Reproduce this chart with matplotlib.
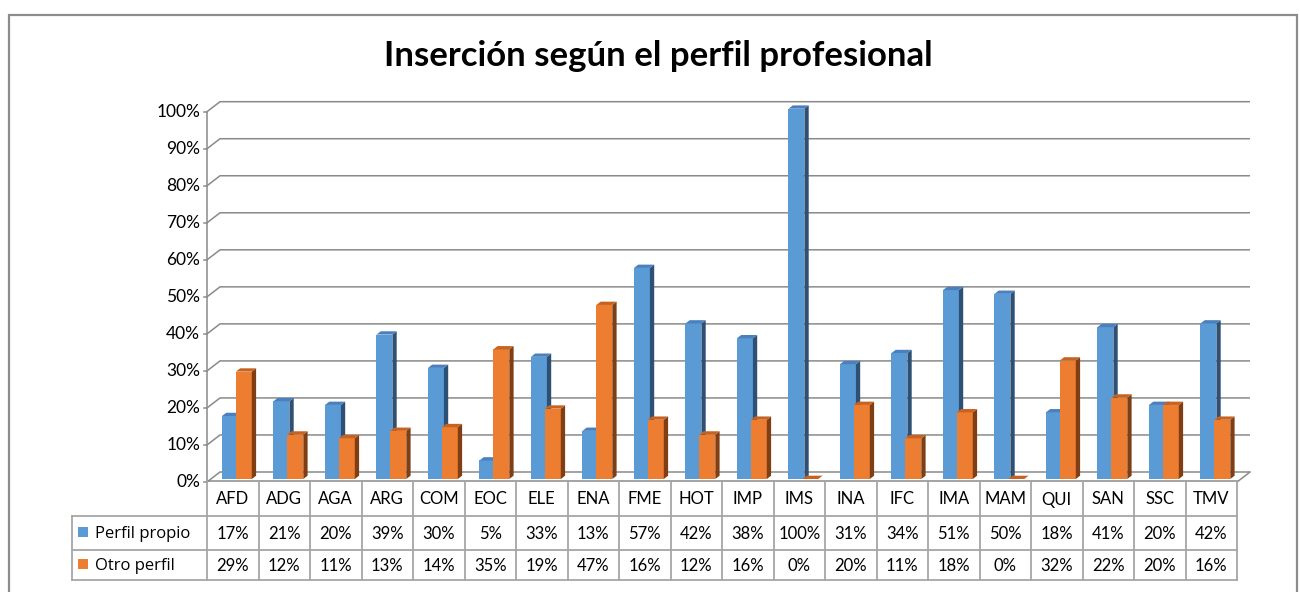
import matplotlib
matplotlib.use("Agg")
import matplotlib.pyplot as plt
import matplotlib.transforms as mtransforms
from matplotlib.patches import Polygon, Rectangle

# ---------------- data ----------------
categories = ["AFD", "ADG", "AGA", "ARG", "COM", "EOC", "ELE", "ENA", "FME", "HOT",
              "IMP", "IMS", "INA", "IFC", "IMA", "MAM", "QUI", "SAN", "SSC", "TMV"]
perfil_propio = [17, 21, 20, 39, 30, 5, 33, 13, 57, 42, 38, 100, 31, 34, 51, 50, 18, 41, 20, 42]
otro_perfil = [29, 12, 11, 13, 14, 35, 19, 47, 16, 12, 16, 0, 20, 11, 18, 0, 32, 22, 20, 16]
series_names = ["Perfil propio", "Otro perfil"]
y_ticks = [0, 10, 20, 30, 40, 50, 60, 70, 80, 90, 100]
title = "Inserción según el perfil profesional"

# ---------------- style ----------------
FONT = "Lato"
plt.rcParams['font.family'] = [FONT, 'DejaVu Sans']
W, H = 1300, 592
def fx(px): return px / W
def fy(py): return 1 - py / H

BLUE = ("#5B9BD5", "#4A80BE", "#2F5075")     # front, top, side
ORANGE = ("#ED7D31", "#C8621F", "#7F3E13")
GRID = "#8A8A8A"
TABLE = "#A6A6A6"
COLW = 51.5           # px per category
YSCALE = 370.3        # px per 100 %

fig = plt.figure(figsize=(W / 100, H / 100), dpi=100)

# outer frame
fig.patches.append(Rectangle((fx(9), fy(600)), fx(1297) - fx(9), (600 - 15) / H,
                             transform=fig.transFigure, fill=False,
                             edgecolor="#8C8C8C", lw=1.6))

fig.text(fx(658), fy(56), title, ha="center", va="center",
         fontsize=25, fontweight="bold", color="black")

ax = fig.add_axes([fx(207), fy(482), fx(1237) - fx(207), YSCALE / H])
ax.set_xlim(0, len(categories))
ax.set_ylim(0, 1)
ax.axis("off")

n = len(categories)
gx, gy = 13 / COLW, 10 / YSCALE          # back-wall depth
# back gridlines with diagonal to front axis
for t in y_ticks:
    v = t / 100
    ax.plot([0, gx, n + gx], [v, v + gy, v + gy], color=GRID, lw=1.1,
            clip_on=False, zorder=1, solid_capstyle="butt")
    ax.plot([-3 / COLW, 0], [v, v], color=GRID, lw=1.1, clip_on=False, zorder=1)
    ax.text(-7 / COLW, v, f"{t}%", ha="right", va="center", fontsize=12.5,
            color="black")
ax.plot([0, 0], [0, 1], color=GRID, lw=1.1, clip_on=False, zorder=1)
ax.plot([n, n + gx], [0, gy], color=GRID, lw=1.1, clip_on=False, zorder=1)

# bars (pseudo 3D)
trans = ax.transData + mtransforms.ScaledTranslation(0, 0.03, fig.dpi_scale_trans)
bw = 0.31
ddx, ddy = 4.3 / COLW, 3.3 / YSCALE

def draw_series(vals, offset, colors, z):
    lefts = [i + offset for i in range(n)]
    hs = [v / 100 for v in vals]
    ax.bar(lefts, hs, width=bw, align="edge", color=colors[0], lw=0,
           transform=trans, zorder=z, clip_on=False)
    for x0, h in zip(lefts, hs):
        x1 = x0 + bw
        top = Polygon([(x0, h), (x1, h), (x1 + ddx, h + ddy), (x0 + ddx, h + ddy)],
                      closed=True, facecolor=colors[1], lw=0, transform=trans,
                      zorder=z, clip_on=False)
        side = Polygon([(x1, 0), (x1, h), (x1 + ddx, h + ddy), (x1 + ddx, ddy)],
                       closed=True, facecolor=colors[2], lw=0, transform=trans,
                       zorder=z, clip_on=False)
        ax.add_patch(side)
        ax.add_patch(top)

draw_series(perfil_propio, 0.29, BLUE, 3)
draw_series(otro_perfil, 0.56, ORANGE, 4)

# ---------------- data table ----------------
L = (207 - 72) / COLW
tab = fig.add_axes([fx(72), fy(580), fx(1237) - fx(72), (580 - 481) / H])
tab.set_xlim(-L, n)
tab.set_ylim(99, 0)
tab.axis("off")
rows = [0, 35, 69, 99]
kw = dict(color=TABLE, lw=1.3, clip_on=False, solid_capstyle="projecting")
tab.plot([0, n], [0, 0], color=GRID, lw=1.1, clip_on=False)
for r in rows[1:]:
    tab.plot([-L, n], [r, r], **kw)
for i in range(n + 1):
    tab.plot([i, i], [0, 99], **kw)
tab.plot([-L, -L], [rows[1], 99], **kw)

for i, c in enumerate(categories):
    tab.text(i + 0.5, (rows[0] + rows[1]) / 2 + 1, c, ha="center", va="center", fontsize=12)
    tab.text(i + 0.5, (rows[1] + rows[2]) / 2 + 1, f"{perfil_propio[i]}%",
             ha="center", va="center", fontsize=12)
    tab.text(i + 0.5, (rows[2] + rows[3]) / 2 + 1, f"{otro_perfil[i]}%",
             ha="center", va="center", fontsize=12)

for k, (name, col) in enumerate(zip(series_names, [BLUE[0], ORANGE[0]])):
    yc = (rows[k + 1] + rows[k + 2]) / 2
    tab.add_patch(Rectangle((-L + 6 / COLW, yc - 6), 10 / COLW, 10,
                            facecolor=col, lw=0, clip_on=False))
    tab.text(-L + 23 / COLW, yc + 1, name, ha="left", va="center", fontsize=12,
             family=["Open Sans", "DejaVu Sans"])

fig.savefig("out.png", dpi=100, facecolor="white")
